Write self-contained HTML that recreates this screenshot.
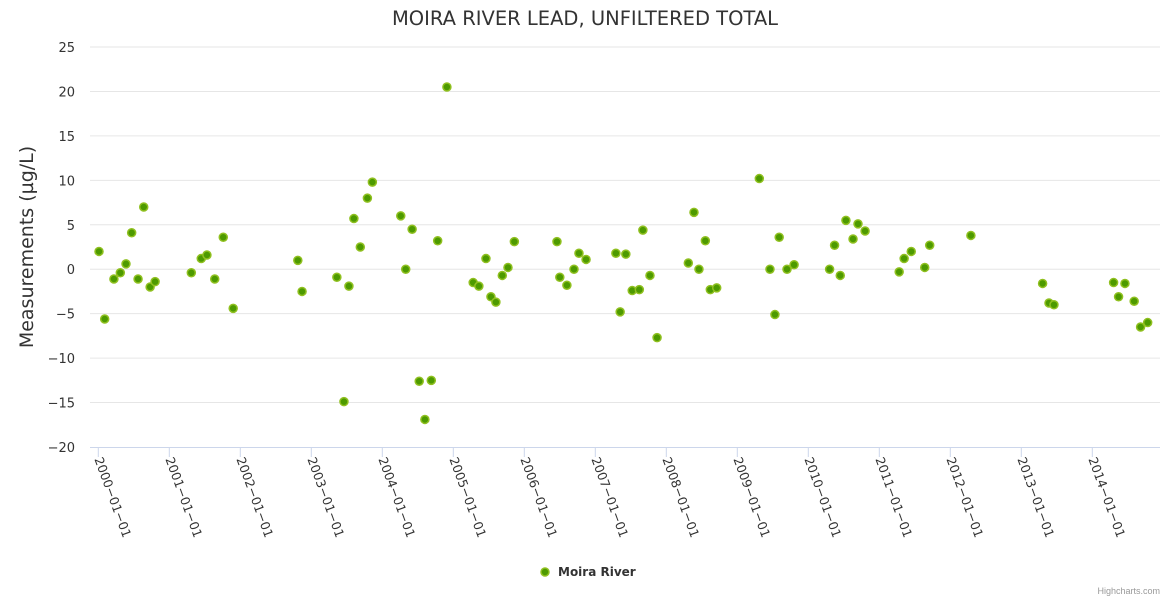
<!DOCTYPE html>
<html><head><meta charset="utf-8"><style>
body{margin:0;background:#fff;font-family:"Liberation Sans",sans-serif}
svg text{font-family:"Liberation Sans",sans-serif}
svg text.dv{font-family:"DejaVu Sans","Liberation Sans",sans-serif}
</style></head><body>
<svg id="chart" width="1170" height="600">
<text class="dv" x="585" y="25" text-anchor="middle" font-size="19.5" fill="#333">MOIRA RIVER LEAD, UNFILTERED TOTAL</text>
<text class="dv" transform="translate(33,247) rotate(-90)" text-anchor="middle" font-size="19" fill="#333">Measurements (µg/L)</text>
<g id="grid"></g><g id="xaxis"></g><g id="pts"></g>
<g>
<circle cx="545" cy="572" r="4" fill="#4d9a00" stroke="#90c020" stroke-width="1.5"/>
<text class="dv" x="558" y="576" font-size="12" font-weight="bold" fill="#333">Moira River</text></g>
<text x="1160" y="594" text-anchor="end" font-size="9" fill="#999">Highcharts.com</text>
</svg>
<script>
const yTicks=[-20,-15,-10,-5,0,5,10,15,20,25];
const xTickYears=[2000,2001,2002,2003,2004,2005,2006,2007,2008,2009,2010,2011,2012,2013,2014];
const dates=[2000.01,2000.09,2000.22,2000.31,2000.39,2000.47,2000.56,2000.64,2000.73,2000.80,2001.31,2001.45,2001.53,2001.64,2001.76,2001.90,2002.81,2002.87,2003.36,2003.46,2003.53,2003.60,2003.69,2003.79,2003.86,2004.26,2004.33,2004.42,2004.52,2004.60,2004.69,2004.78,2004.91,2005.28,2005.36,2005.46,2005.53,2005.60,2005.69,2005.77,2005.86,2006.46,2006.50,2006.60,2006.70,2006.77,2006.87,2007.29,2007.35,2007.43,2007.52,2007.62,2007.67,2007.77,2007.87,2008.31,2008.39,2008.46,2008.55,2008.62,2008.71,2009.31,2009.46,2009.53,2009.59,2009.70,2009.80,2010.30,2010.37,2010.45,2010.53,2010.63,2010.70,2010.80,2011.28,2011.35,2011.45,2011.64,2011.71,2012.29,2013.30,2013.39,2013.46,2014.30,2014.37,2014.46,2014.59,2014.68,2014.78];
const values=[2.0,-5.6,-1.1,-0.4,0.6,4.1,-1.1,7.0,-2.0,-1.4,-0.4,1.2,1.6,-1.1,3.6,-4.4,1.0,-2.5,-0.9,-14.9,-1.9,5.7,2.5,8.0,9.8,6.0,0,4.5,-12.6,-16.9,-12.5,3.2,20.5,-1.5,-1.9,1.2,-3.1,-3.7,-0.7,0.2,3.1,3.1,-0.9,-1.8,0,1.8,1.1,1.8,-4.8,1.7,-2.4,-2.3,4.4,-0.7,-7.7,0.7,6.4,0,3.2,-2.3,-2.1,10.2,0,-5.1,3.6,0,0.5,0,2.7,-0.7,5.5,3.4,5.1,4.3,-0.3,1.2,2.0,0.2,2.7,3.8,-1.6,-3.8,-4.0,-1.5,-3.1,-1.6,-3.6,-6.5,-6.0];
const NS="http://www.w3.org/2000/svg";
const L=90,R=1160,T=47,B=447;
const yS=v=>T+(25-v)*(B-T)/45;
const xS=d=>98.3+(d-2000)*71;
function mk(t,a,p){const e=document.createElementNS(NS,t);for(const k in a)e.setAttribute(k,a[k]);p.appendChild(e);return e;}
const g=document.getElementById('grid');
yTicks.forEach(v=>{
 const y=yS(v);
 if(v!==-20){const ln=mk('line',{x1:L,x2:R,y1:y,y2:y,stroke:'#e6e6e6'},g);
 
 }
 const t=mk('text',{x:75,y:y+5,'text-anchor':'end','font-size':13,fill:'#333','class':'dv'},g);
 t.textContent=String(v).replace('-','\u2212');
 
 
});
const xa=document.getElementById('xaxis');
const ax=mk('line',{x1:L,x2:R,y1:B+0.5,y2:B+0.5,stroke:'#ccd6eb'},xa);


xTickYears.forEach(yr=>{
 const x=xS(yr);
 const tk=mk('line',{x1:x,x2:x,y1:B,y2:B+10,stroke:'#ccd6eb'},xa);
 
 
 const t=mk('text',{transform:`translate(${x-4},${B+12}) rotate(70)`,'font-size':12.5,fill:'#333','class':'dv'},xa);
 t.textContent=yr+'\u221201\u221201';
 
 
});
const pg=document.getElementById('pts');
dates.forEach((d,i)=>{
 const c=mk('circle',{cx:xS(d),cy:yS(values[i]),r:4,fill:'#4d9a00',stroke:'#90c020','stroke-width':1.5},pg);
 
 
});
</script>
</body></html>
